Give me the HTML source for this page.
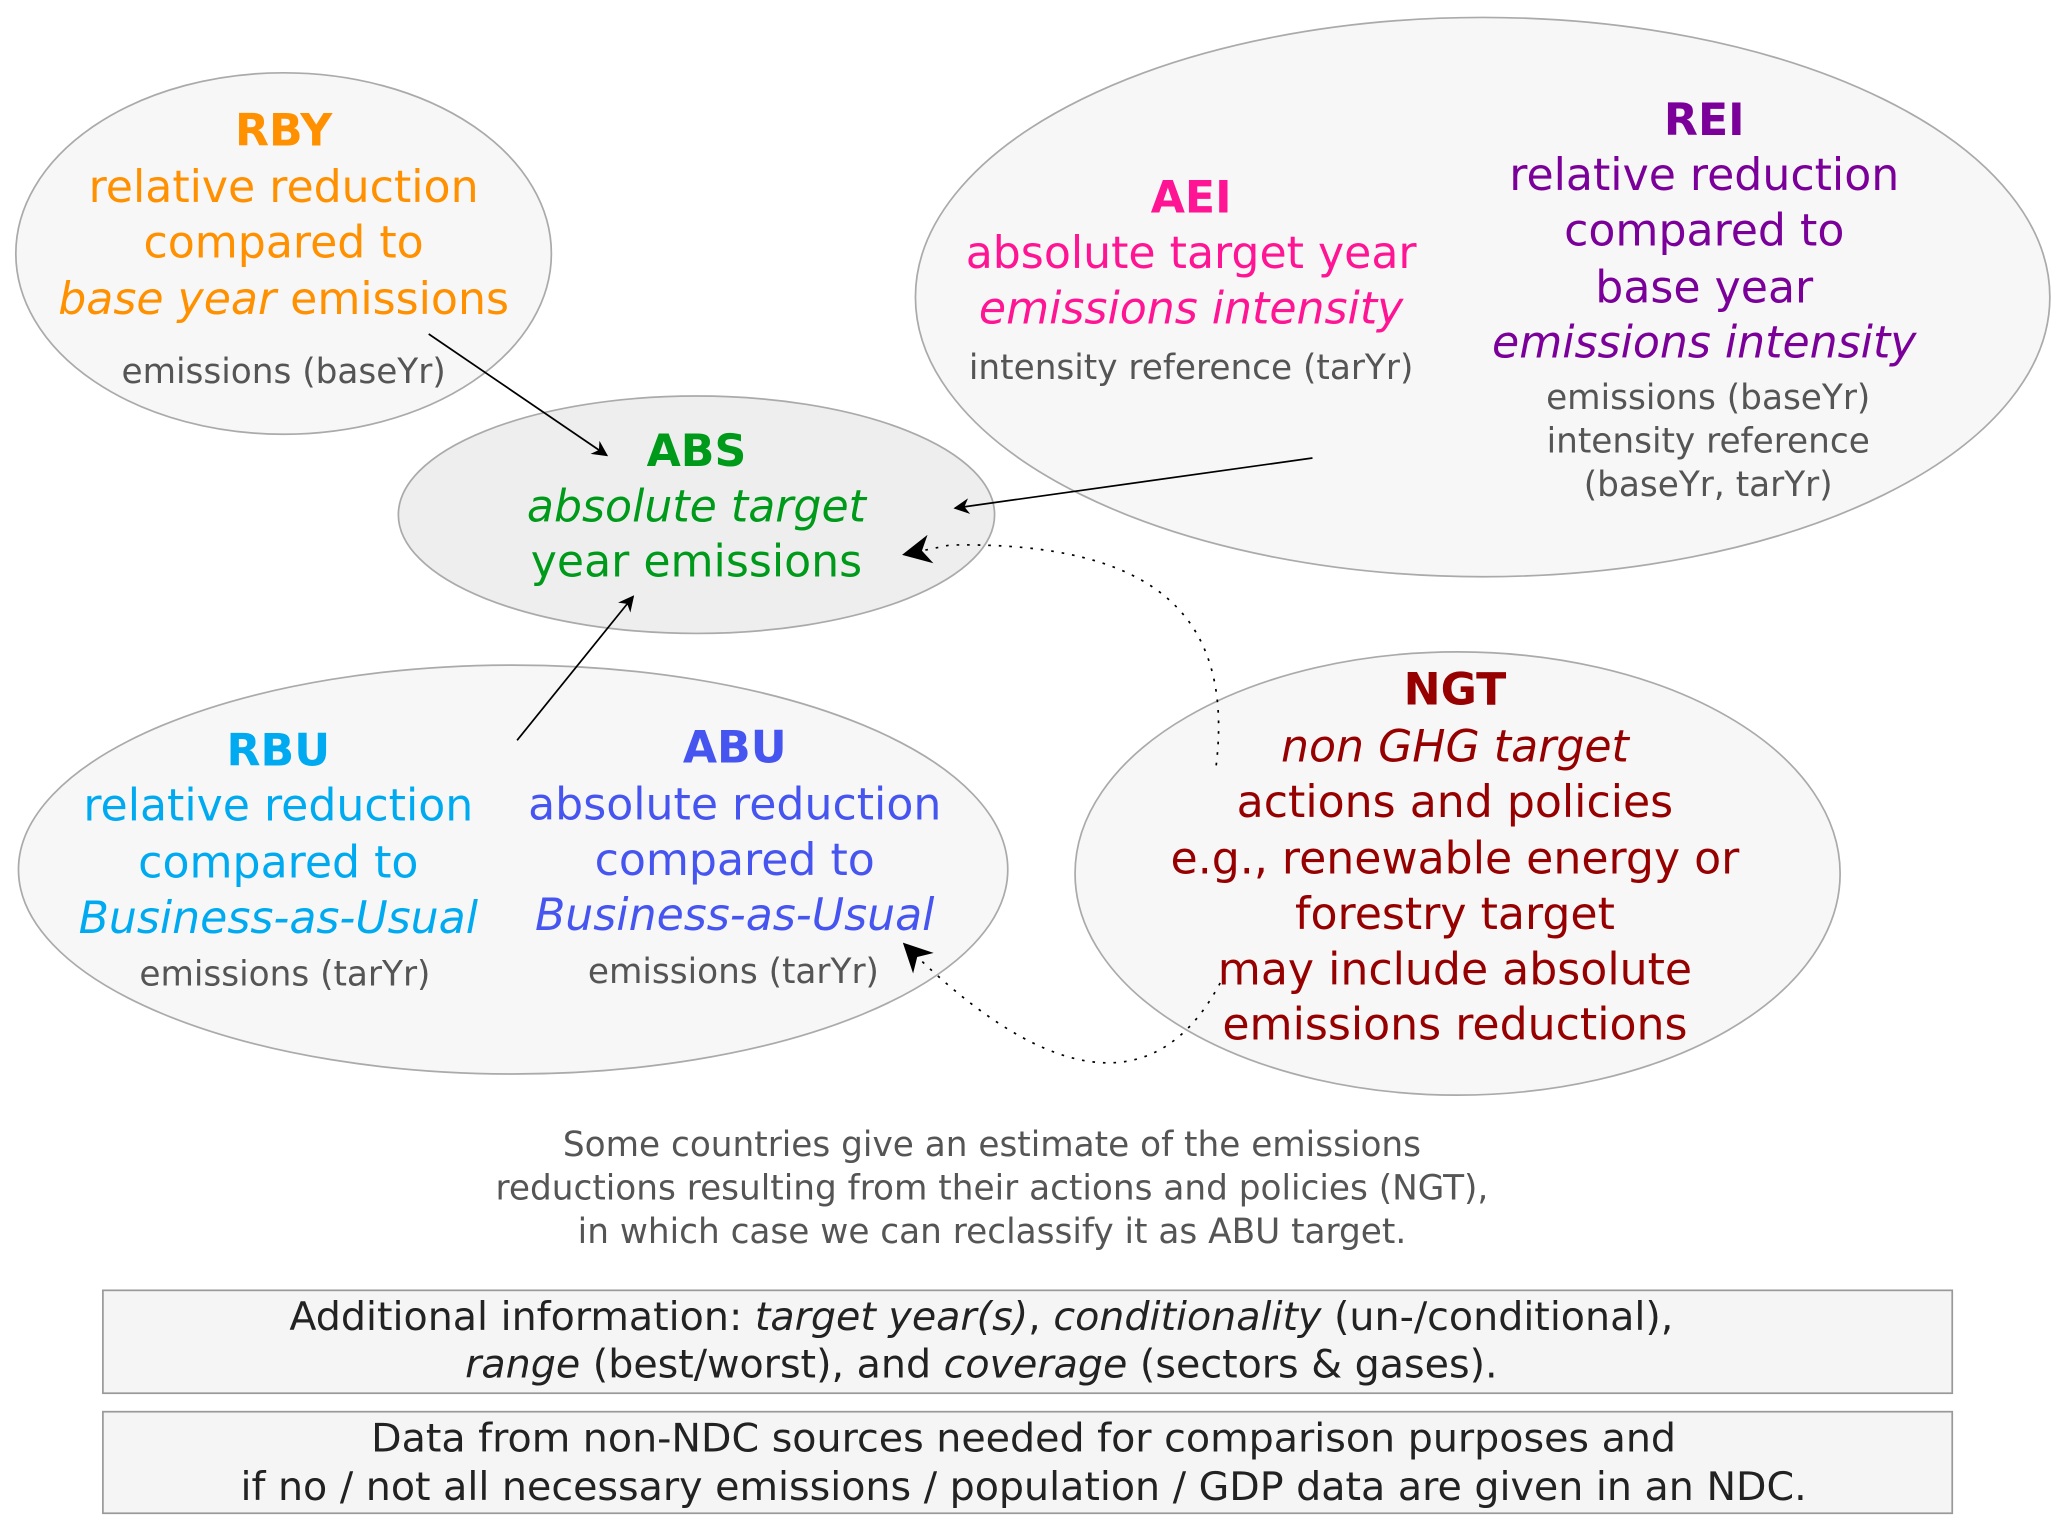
<!DOCTYPE html>
<html><head><meta charset="utf-8"><style>html,body{margin:0;padding:0;background:#fff}svg{display:block}</style></head><body>
<svg width="2067" height="1532" viewBox="0 0 1567 1161" xmlns="http://www.w3.org/2000/svg" font-family="DejaVu Sans, Liberation Sans, sans-serif" text-anchor="middle">
<defs><marker id="a" viewBox="0 0 10 10" refX="9" refY="5" markerWidth="12" markerHeight="12" markerUnits="userSpaceOnUse" orient="auto"><path d="M0,0 L10,5 L0,10 L3,5 z" fill="#000"/></marker>
<marker id="b" viewBox="0 0 10 10" refX="9" refY="5" markerWidth="22" markerHeight="22" markerUnits="userSpaceOnUse" orient="auto"><path d="M0,0 L10,5 L0,10 L3,5 z" fill="#000"/></marker></defs>
<g stroke="#aaa" stroke-width="1.3">
<ellipse cx="215" cy="192" rx="203" ry="137" fill="#f7f7f7"/>
<ellipse cx="1124" cy="225" rx="430" ry="212" fill="#f7f7f7"/>
<ellipse cx="389" cy="659" rx="375" ry="155" fill="#f7f7f7"/>
<ellipse cx="1105" cy="662" rx="290" ry="168" fill="#f7f7f7"/>
<ellipse cx="528" cy="390" rx="226" ry="90" fill="#eee"/>
</g>
<g stroke="#000" stroke-width="1.3" fill="none">
<line x1="325" y1="253" x2="460" y2="345" marker-end="url(#a)"/>
<line x1="995" y1="347" x2="724" y2="385" marker-end="url(#a)"/>
<line x1="392" y1="561" x2="480" y2="452" marker-end="url(#a)"/>
<path d="M922,580 C935,470 880,410 720,413 L686,420" stroke-dasharray="2,6" marker-end="url(#b)"/>
<path d="M925,745 C880,830 800,830 686,716" stroke-dasharray="2,6" marker-end="url(#b)"/>
</g>
<g font-size="33.5">
<g fill="#ff9000"><text x="215" y="110" font-weight="bold">RBY</text><text x="215" y="153">relative reduction</text><text x="215" y="195">compared to</text><text x="215" y="238"><tspan font-style="italic">base year</tspan> emissions</text></g>
<g fill="#009a1a"><text x="528" y="353" font-weight="bold">ABS</text><text x="528" y="395" font-style="italic">absolute target</text><text x="528" y="437">year emissions</text></g>
<g fill="#ff1493"><text x="903" y="161" font-weight="bold">AEI</text><text x="903" y="203">absolute target year</text><text x="903" y="245" font-style="italic">emissions intensity</text></g>
<g fill="#7b0099"><text x="1292" y="102" font-weight="bold">REI</text><text x="1292" y="144">relative reduction</text><text x="1292" y="186">compared to</text><text x="1292" y="229">base year</text><text x="1292" y="271" font-style="italic">emissions intensity</text></g>
<g fill="#00aaf0"><text x="211" y="580" font-weight="bold">RBU</text><text x="211" y="622">relative reduction</text><text x="211" y="665">compared to</text><text x="211" y="707" font-style="italic">Business-as-Usual</text></g>
<g fill="#4655f0"><text x="557" y="578" font-weight="bold">ABU</text><text x="557" y="621">absolute reduction</text><text x="557" y="663">compared to</text><text x="557" y="705" font-style="italic">Business-as-Usual</text></g>
<g fill="#960000"><text x="1103" y="534" font-weight="bold">NGT</text><text x="1103" y="577" font-style="italic">non GHG target</text><text x="1103" y="619">actions and policies</text><text x="1103" y="662">e.g., renewable energy or</text><text x="1103" y="704">forestry target</text><text x="1103" y="746">may include absolute</text><text x="1103" y="788">emissions reductions</text></g>
</g>
<g font-size="26" fill="#555">
<text x="215" y="290">emissions (baseYr)</text>
<text x="903" y="287">intensity reference (tarYr)</text>
<text x="1295" y="310">emissions (baseYr)</text><text x="1295" y="343">intensity reference</text><text x="1295" y="376">(baseYr, tarYr)</text>
<text x="216" y="747">emissions (tarYr)</text>
<text x="556" y="745">emissions (tarYr)</text>
<text x="752" y="876">Some countries give an estimate of the emissions</text>
<text x="752" y="909">reductions resulting from their actions and policies (NGT),</text>
<text x="752" y="942">in which case we can reclassify it as ABU target.</text>
</g>
<g stroke="#999" stroke-width="1.3" fill="#f5f5f5"><rect x="78" y="978" width="1402" height="78"/><rect x="78" y="1070" width="1402" height="77"/></g>
<g font-size="30" fill="#222">
<text x="744" y="1008">Additional information: <tspan font-style="italic">target year(s)</tspan>, <tspan font-style="italic">conditionality</tspan> (un-/conditional),</text>
<text x="744" y="1044"><tspan font-style="italic">range</tspan> (best/worst), and <tspan font-style="italic">coverage</tspan> (sectors &amp; gases).</text>
<text x="776" y="1100">Data from non-NDC sources needed for comparison purposes and</text>
<text x="776" y="1137">if no / not all necessary emissions / population / GDP data are given in an NDC.</text>
</g>
</svg>
</body></html>
